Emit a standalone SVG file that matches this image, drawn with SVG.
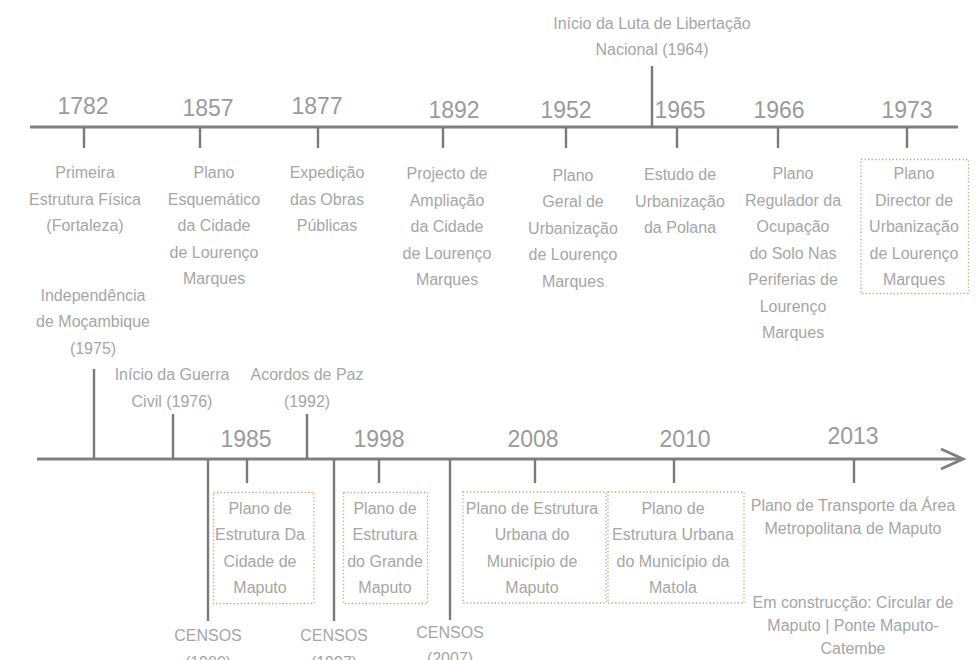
<svg xmlns="http://www.w3.org/2000/svg" width="976" height="660" viewBox="0 0 976 660">
<style>
.ln{stroke:#808080;stroke-width:3;fill:none;stroke-linecap:butt}
.tk{stroke:#7a7a7a;stroke-width:2.4;fill:none}
.yr{font-family:"Liberation Sans",Arial,sans-serif;font-size:23px;fill:#9a9a9a;text-anchor:middle}
.tx{font-family:"Liberation Sans",Arial,sans-serif;font-size:16px;fill:#a6a6a6;text-anchor:middle}
.bx{fill:none;stroke:#c9a27c;stroke-width:1.3;stroke-dasharray:1.3 2.2}
</style>
<rect width="976" height="660" fill="#ffffff"/>
<g id="connectors">
<line class="ln" x1="30" y1="127" x2="958" y2="127"/>
<line class="tk" x1="84" y1="127" x2="84" y2="148"/>
<line class="tk" x1="200" y1="127" x2="200" y2="148"/>
<line class="tk" x1="318" y1="127" x2="318" y2="148"/>
<line class="tk" x1="443" y1="127" x2="443" y2="148"/>
<line class="tk" x1="566" y1="127" x2="566" y2="148"/>
<line class="tk" x1="652" y1="66" x2="652" y2="128"/>
<line class="tk" x1="677" y1="127" x2="677" y2="148"/>
<line class="tk" x1="778" y1="127" x2="778" y2="148"/>
<line class="tk" x1="907" y1="127" x2="907" y2="148"/>
<line class="ln" x1="37" y1="459" x2="961" y2="459"/>
<polyline class="ln" points="941,449 963,459 941,469"/>
<line class="tk" x1="94" y1="369" x2="94" y2="459"/>
<line class="tk" x1="173" y1="414" x2="173" y2="459"/>
<line class="tk" x1="307" y1="414" x2="307" y2="459"/>
<line class="tk" x1="208" y1="459" x2="208" y2="621"/>
<line class="tk" x1="334" y1="459" x2="334" y2="621"/>
<line class="tk" x1="450" y1="459" x2="450" y2="620"/>
<line class="tk" x1="247" y1="459" x2="247" y2="483"/>
<line class="tk" x1="379" y1="459" x2="379" y2="483"/>
<line class="tk" x1="535" y1="459" x2="535" y2="483"/>
<line class="tk" x1="674" y1="459" x2="674" y2="483"/>
<line class="tk" x1="854" y1="459" x2="854" y2="483"/>
</g>
<g id="n1782">
<text class="yr" x="83" y="114">1782</text>
<text class="tx" x="85" y="178"><tspan x="85">Primeira</tspan><tspan x="85" dy="26.5">Estrutura Física</tspan><tspan x="85" dy="26.5">(Fortaleza)</tspan></text>
</g>
<g id="n1857">
<text class="yr" x="208" y="115.5">1857</text>
<text class="tx" x="214" y="178"><tspan x="214">Plano</tspan><tspan x="214" dy="26.5">Esquemático</tspan><tspan x="214" dy="26.5">da Cidade</tspan><tspan x="214" dy="26.5">de Lourenço</tspan><tspan x="214" dy="26.5">Marques</tspan></text>
</g>
<g id="n1877">
<text class="yr" x="317" y="114">1877</text>
<text class="tx" x="327" y="178"><tspan x="327">Expedição</tspan><tspan x="327" dy="26.5">das Obras</tspan><tspan x="327" dy="26.5">Públicas</tspan></text>
</g>
<g id="n1892">
<text class="yr" x="454" y="118">1892</text>
<text class="tx" x="447" y="179"><tspan x="447">Projecto de</tspan><tspan x="447" dy="26.5">Ampliação</tspan><tspan x="447" dy="26.5">da Cidade</tspan><tspan x="447" dy="26.5">de Lourenço</tspan><tspan x="447" dy="26.5">Marques</tspan></text>
</g>
<g id="n1952">
<text class="yr" x="566" y="118">1952</text>
<text class="tx" x="573" y="180.5"><tspan x="573">Plano</tspan><tspan x="573" dy="26.5">Geral de</tspan><tspan x="573" dy="26.5">Urbanização</tspan><tspan x="573" dy="26.5">de Lourenço</tspan><tspan x="573" dy="26.5">Marques</tspan></text>
</g>
<g id="n1964">
<text class="tx" x="652" y="29"><tspan x="652">Início da Luta de Libertação</tspan><tspan x="652" dy="26">Nacional (1964)</tspan></text>
</g>
<g id="n1965">
<text class="yr" x="680" y="118">1965</text>
<text class="tx" x="680" y="180"><tspan x="680">Estudo de</tspan><tspan x="680" dy="26.5">Urbanização</tspan><tspan x="680" dy="26.5">da Polana</tspan></text>
</g>
<g id="n1966">
<text class="yr" x="779" y="118">1966</text>
<text class="tx" x="793" y="179"><tspan x="793">Plano</tspan><tspan x="793" dy="26.5">Regulador da</tspan><tspan x="793" dy="26.5">Ocupação</tspan><tspan x="793" dy="26.5">do Solo Nas</tspan><tspan x="793" dy="26.5">Periferias de</tspan><tspan x="793" dy="26.5">Lourenço</tspan><tspan x="793" dy="26.5">Marques</tspan></text>
</g>
<g id="n1973">
<text class="yr" x="907" y="118">1973</text>
<rect class="bx" x="861" y="159.5" width="107.5" height="134"/>
<text class="tx" x="914" y="179"><tspan x="914">Plano</tspan><tspan x="914" dy="26.5">Director de</tspan><tspan x="914" dy="26.5">Urbanização</tspan><tspan x="914" dy="26.5">de Lourenço</tspan><tspan x="914" dy="26.5">Marques</tspan></text>
</g>
<g id="n1975">
<text class="tx" x="93" y="300.5"><tspan x="93">Independência</tspan><tspan x="93" dy="26.5">de Moçambique</tspan><tspan x="93" dy="26.5">(1975)</tspan></text>
</g>
<g id="n1976">
<text class="tx" x="172" y="380"><tspan x="172">Início da Guerra</tspan><tspan x="172" dy="26.5">Civil (1976)</tspan></text>
</g>
<g id="n1992">
<text class="tx" x="307" y="380"><tspan x="307">Acordos de Paz</tspan><tspan x="307" dy="26.5">(1992)</tspan></text>
</g>
<g id="n1980">
<text class="tx" x="208" y="641"><tspan x="208">CENSOS</tspan><tspan x="208" dy="26.5">(1980)</tspan></text>
</g>
<g id="n1997">
<text class="tx" x="334" y="641"><tspan x="334">CENSOS</tspan><tspan x="334" dy="26.5">(1997)</tspan></text>
</g>
<g id="n2007">
<text class="tx" x="450" y="637.5"><tspan x="450">CENSOS</tspan><tspan x="450" dy="26.5">(2007)</tspan></text>
</g>
<g id="n1985">
<text class="yr" x="246" y="446.5">1985</text>
<rect class="bx" x="213.5" y="492.5" width="100.5" height="111"/>
<text class="tx" x="260" y="513.5"><tspan x="260">Plano de</tspan><tspan x="260" dy="26.5">Estrutura Da</tspan><tspan x="260" dy="26.5">Cidade de</tspan><tspan x="260" dy="26.5">Maputo</tspan></text>
</g>
<g id="n1998">
<text class="yr" x="379" y="446.5">1998</text>
<rect class="bx" x="343.5" y="492.5" width="84" height="111"/>
<text class="tx" x="385" y="513.5"><tspan x="385">Plano de</tspan><tspan x="385" dy="26.5">Estrutura</tspan><tspan x="385" dy="26.5">do Grande</tspan><tspan x="385" dy="26.5">Maputo</tspan></text>
</g>
<g id="n2008">
<text class="yr" x="533" y="446.5">2008</text>
<rect class="bx" x="463" y="492" width="143" height="111"/>
<text class="tx" x="532" y="513.5"><tspan x="532">Plano de Estrutura</tspan><tspan x="532" dy="26.5">Urbana do</tspan><tspan x="532" dy="26.5">Município de</tspan><tspan x="532" dy="26.5">Maputo</tspan></text>
</g>
<g id="n2010">
<text class="yr" x="685" y="446.5">2010</text>
<rect class="bx" x="608" y="492" width="136" height="111"/>
<text class="tx" x="673" y="513.5"><tspan x="673">Plano de</tspan><tspan x="673" dy="26.5">Estrutura Urbana</tspan><tspan x="673" dy="26.5">do Município da</tspan><tspan x="673" dy="26.5">Matola</tspan></text>
</g>
<g id="n2013">
<text class="yr" x="853" y="443.5">2013</text>
<text class="tx" x="853" y="511"><tspan x="853">Plano de Transporte da Área</tspan><tspan x="853" dy="23">Metropolitana de Maputo</tspan></text>
<text class="tx" x="853" y="608"><tspan x="853">Em construcção: Circular de</tspan><tspan x="853" dy="23">Maputo | Ponte Maputo-</tspan><tspan x="853" dy="22.5">Catembe</tspan></text>
</g>
</svg>
